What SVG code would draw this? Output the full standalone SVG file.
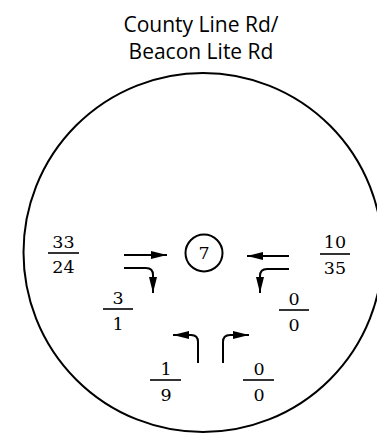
<svg xmlns="http://www.w3.org/2000/svg" width="377" height="434" viewBox="0 0 377 434">
<style>
.t{font-family:"Open Sans","DejaVu Sans",sans-serif;font-size:21px;fill:#000;text-anchor:middle}
.n{font-family:"DejaVu Serif","Liberation Serif",serif;font-size:17.5px;fill:#000;text-anchor:middle}
.ln{stroke:#000;stroke-width:2;fill:none}
.fl{stroke:#000;stroke-width:1.6}
</style>
<defs>
<marker id="ah" markerWidth="16" markerHeight="8" refX="16" refY="4" orient="auto" markerUnits="userSpaceOnUse">
<path d="M0,0 L16,4 L0,8 Z" fill="#000"/>
</marker>
</defs>
<rect width="377" height="434" fill="#fff"/>
<g id="title">
<text class="t" x="201" y="32">County Line Rd/</text>
<text class="t" x="201" y="59">Beacon Lite Rd</text>
</g>
<g id="boundary">
<circle cx="203" cy="252.5" r="179.5" fill="none" stroke="#000" stroke-width="2"/>
</g>
<g id="node7">
<circle cx="204" cy="253" r="18.5" fill="none" stroke="#000" stroke-width="2"/>
<text class="n" x="204" y="259">7</text>
</g>
<g id="connectors">
<path class="ln" d="M124,255 H167" marker-end="url(#ah)"/>
<path class="ln" d="M124,268 H146 Q153,268 153,275 V293" marker-end="url(#ah)"/>
<path class="ln" d="M289,256 H247" marker-end="url(#ah)"/>
<path class="ln" d="M289,269 H267 Q260,269 260,276 V293" marker-end="url(#ah)"/>
<path class="ln" d="M198,363 V342 Q198,335 191,335 H173" marker-end="url(#ah)"/>
<path class="ln" d="M223,363 V342 Q223,335 230,335 H249" marker-end="url(#ah)"/>
</g>
<g id="west">
<text class="n" x="63.5" y="248">33</text>
<line class="fl" x1="48" y1="253" x2="79" y2="253"/>
<text class="n" x="63.5" y="273">24</text>
</g>
<g id="east">
<text class="n" x="335" y="248">10</text>
<line class="fl" x1="320" y1="254" x2="350" y2="254"/>
<text class="n" x="335" y="274">35</text>
</g>
<g id="west-right">
<text class="n" x="118" y="304">3</text>
<line class="fl" x1="103" y1="309" x2="133" y2="309"/>
<text class="n" x="118" y="330">1</text>
</g>
<g id="east-right">
<text class="n" x="294" y="305">0</text>
<line class="fl" x1="279" y1="310" x2="309" y2="310"/>
<text class="n" x="294" y="331">0</text>
</g>
<g id="south-left">
<text class="n" x="166" y="375">1</text>
<line class="fl" x1="150" y1="380" x2="181" y2="380"/>
<text class="n" x="166" y="401">9</text>
</g>
<g id="south-right">
<text class="n" x="259" y="375">0</text>
<line class="fl" x1="243" y1="380" x2="274" y2="380"/>
<text class="n" x="259" y="401">0</text>
</g>
</svg>
